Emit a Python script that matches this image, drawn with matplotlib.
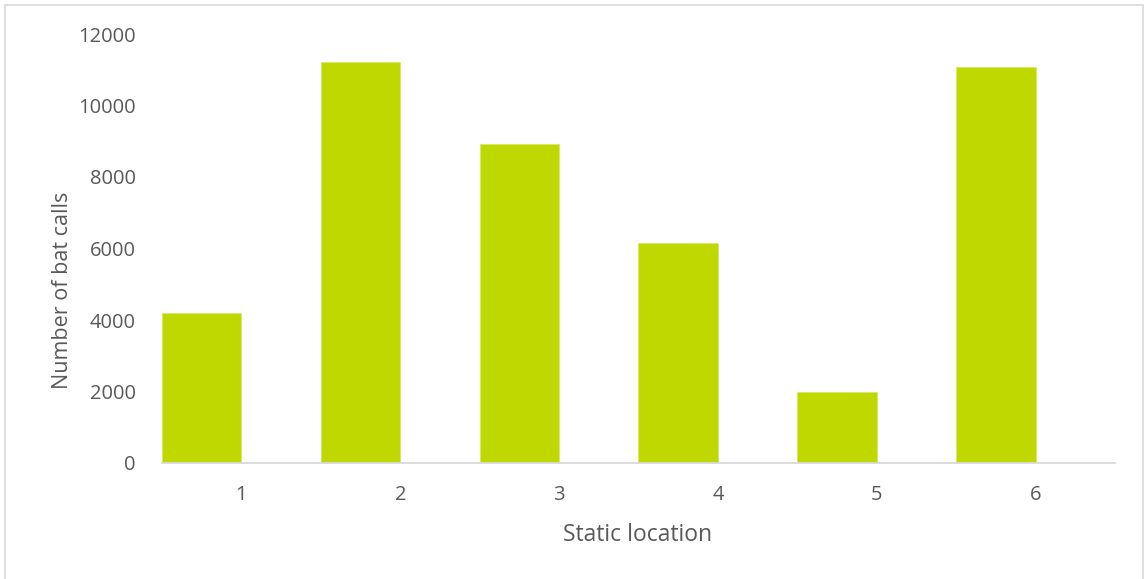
import matplotlib
matplotlib.use("Agg")
import matplotlib.pyplot as plt
from matplotlib.patches import Rectangle

# Recorded bat calls per static detector location
locations = ["1", "2", "3", "4", "5", "6"]
bat_calls = [4200, 11225, 8935, 6160, 1975, 11065]

BAR_COLOR = "#BFD800"
TEXT_COLOR = "#595959"

plt.rcParams["font.family"] = ["Open Sans", "DejaVu Sans"]

fig = plt.figure(figsize=(11.44, 5.79), dpi=100)
ax = fig.add_axes([162 / 1144, 1 - 463 / 579, (1115 - 162) / 1144, (463 - 34) / 579])

x = range(len(locations))
# bars sit in the left half of each category slot, ending at the tick
ax.bar([i - 0.5 for i in x], bat_calls, width=0.5, align="edge",
       color=BAR_COLOR, edgecolor="#d8e86a", linewidth=0.6)

ax.set_xlim(-0.5, len(locations) - 0.5)
ax.set_ylim(0, 12000)
ax.set_yticks(range(0, 12001, 2000))
ax.set_xticks(list(x))
ax.set_xticklabels(locations)

for side in ("top", "right", "left"):
    ax.spines[side].set_visible(False)
ax.spines["bottom"].set_color("#d9d9d9")
ax.spines["bottom"].set_linewidth(1.3)

ax.tick_params(axis="both", length=0, labelsize=14.5, colors=TEXT_COLOR)
ax.tick_params(axis="x", pad=16)
ax.tick_params(axis="y", pad=19)

ax.set_xlabel("Static location", fontsize=16.5, color=TEXT_COLOR)
ax.set_ylabel("Number of bat calls", fontsize=15.5, color=TEXT_COLOR)
ax.xaxis.set_label_coords((638 - 162) / 953, -(535 - 463) / 429)
ax.yaxis.set_label_coords((63 - 162) / 953, (463 - 290) / 429)
ax.xaxis.label.set_va("center")
ax.yaxis.label.set_va("center")

# light chart-area border (bottom edge falls outside the image)
fig.patches.append(Rectangle((5 / 1144, -0.02), (1143 - 5) / 1144, 1.02 - 5 / 579,
                             transform=fig.transFigure, fill=False,
                             edgecolor="#d9d9d9", linewidth=1.2))

fig.savefig("out.png", dpi=100)
